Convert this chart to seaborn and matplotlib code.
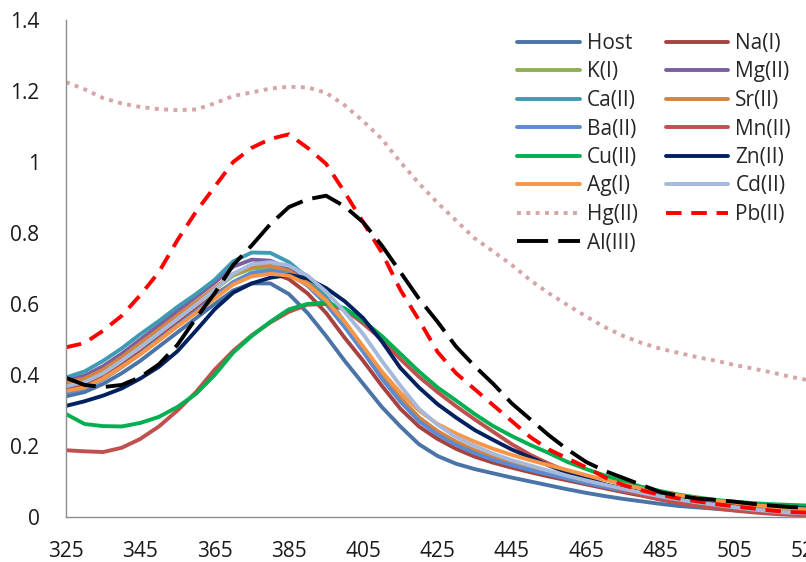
import numpy as np
import pandas as pd
import matplotlib
matplotlib.use("Agg")
import matplotlib.pyplot as plt
import seaborn as sns

wavelength = list(range(325, 530, 5))

series_names = ["Host", "Na(I)", "K(I)", "Mg(II)", "Ca(II)", "Sr(II)", "Ba(II)", "Mn(II)",
                "Cu(II)", "Zn(II)", "Ag(I)", "Cd(II)", "Hg(II)", "Pb(II)", "Al(III)"]

host = [0.340, 0.352, 0.375, 0.405, 0.440, 0.480, 0.520, 0.560, 0.600, 0.638, 0.658, 0.658, 0.628, 0.575,
        0.510, 0.440, 0.375, 0.310, 0.255, 0.205, 0.172, 0.150, 0.135, 0.123, 0.111, 0.100, 0.089, 0.078,
        0.068, 0.059, 0.051, 0.044, 0.037, 0.031, 0.027, 0.023, 0.019, 0.016, 0.013, 0.011, 0.009]
na = [0.360, 0.370, 0.395, 0.430, 0.465, 0.505, 0.545, 0.585, 0.625, 0.660, 0.685, 0.690, 0.670, 0.630,
      0.575, 0.505, 0.440, 0.370, 0.305, 0.255, 0.220, 0.192, 0.170, 0.153, 0.139, 0.126, 0.114, 0.103,
      0.092, 0.081, 0.070, 0.060, 0.050, 0.041, 0.034, 0.028, 0.022, 0.017, 0.013, 0.010, 0.008]
k = [0.372, 0.385, 0.410, 0.445, 0.482, 0.520, 0.560, 0.600, 0.640, 0.680, 0.700, 0.703, 0.690, 0.655,
     0.605, 0.540, 0.470, 0.395, 0.330, 0.275, 0.235, 0.205, 0.182, 0.163, 0.148, 0.135, 0.122, 0.110,
     0.098, 0.087, 0.076, 0.066, 0.056, 0.047, 0.039, 0.032, 0.026, 0.020, 0.016, 0.012, 0.010]
mg = [0.385, 0.398, 0.425, 0.460, 0.500, 0.540, 0.580, 0.620, 0.660, 0.705, 0.725, 0.722, 0.700, 0.660,
      0.610, 0.545, 0.475, 0.400, 0.335, 0.278, 0.238, 0.207, 0.183, 0.164, 0.148, 0.134, 0.121, 0.109,
      0.097, 0.086, 0.075, 0.065, 0.055, 0.046, 0.038, 0.031, 0.025, 0.019, 0.015, 0.011, 0.009]
ca = [0.393, 0.410, 0.440, 0.475, 0.515, 0.552, 0.592, 0.628, 0.668, 0.720, 0.745, 0.744, 0.718, 0.675,
      0.620, 0.550, 0.478, 0.400, 0.335, 0.280, 0.240, 0.210, 0.186, 0.167, 0.151, 0.137, 0.124, 0.111,
      0.099, 0.088, 0.077, 0.067, 0.057, 0.048, 0.040, 0.033, 0.027, 0.021, 0.016, 0.012, 0.010]
sr = [0.378, 0.390, 0.415, 0.450, 0.490, 0.528, 0.568, 0.606, 0.645, 0.685, 0.705, 0.708, 0.693, 0.660,
      0.610, 0.545, 0.475, 0.400, 0.335, 0.280, 0.242, 0.212, 0.188, 0.168, 0.152, 0.138, 0.125, 0.113,
      0.101, 0.090, 0.079, 0.069, 0.059, 0.050, 0.042, 0.035, 0.029, 0.023, 0.018, 0.014, 0.011]
ba = [0.350, 0.362, 0.388, 0.422, 0.460, 0.500, 0.540, 0.580, 0.620, 0.662, 0.688, 0.695, 0.685, 0.652,
      0.600, 0.535, 0.465, 0.390, 0.325, 0.270, 0.232, 0.203, 0.180, 0.161, 0.146, 0.132, 0.120, 0.108,
      0.096, 0.085, 0.074, 0.064, 0.054, 0.045, 0.037, 0.030, 0.024, 0.019, 0.014, 0.011, 0.009]
mn = [0.188, 0.185, 0.183, 0.195, 0.220, 0.255, 0.300, 0.352, 0.415, 0.468, 0.512, 0.548, 0.578, 0.598,
      0.600, 0.585, 0.545, 0.500, 0.445, 0.395, 0.352, 0.312, 0.275, 0.240, 0.205, 0.175, 0.150, 0.128,
      0.112, 0.092, 0.076, 0.061, 0.049, 0.039, 0.031, 0.024, 0.018, 0.013, 0.009, 0.006, 0.005]
cu = [0.290, 0.262, 0.256, 0.255, 0.265, 0.282, 0.310, 0.347, 0.400, 0.463, 0.510, 0.550, 0.585, 0.600,
      0.604, 0.588, 0.553, 0.510, 0.460, 0.410, 0.365, 0.328, 0.290, 0.256, 0.228, 0.203, 0.180, 0.155,
      0.135, 0.117, 0.100, 0.085, 0.073, 0.063, 0.055, 0.048, 0.043, 0.039, 0.036, 0.034, 0.032]
zn = [0.313, 0.326, 0.342, 0.362, 0.390, 0.423, 0.467, 0.525, 0.585, 0.632, 0.658, 0.674, 0.682, 0.672,
      0.645, 0.608, 0.560, 0.495, 0.420, 0.365, 0.318, 0.280, 0.245, 0.217, 0.190, 0.168, 0.145, 0.125,
      0.107, 0.092, 0.080, 0.070, 0.062, 0.055, 0.049, 0.044, 0.039, 0.034, 0.030, 0.026, 0.023]
ag = [0.355, 0.365, 0.390, 0.423, 0.458, 0.497, 0.537, 0.575, 0.615, 0.655, 0.678, 0.685, 0.680, 0.655,
      0.610, 0.550, 0.480, 0.410, 0.350, 0.300, 0.262, 0.235, 0.212, 0.192, 0.175, 0.160, 0.146, 0.132,
      0.118, 0.105, 0.092, 0.080, 0.070, 0.061, 0.053, 0.046, 0.040, 0.034, 0.029, 0.024, 0.021]
cd = [0.368, 0.380, 0.405, 0.440, 0.478, 0.518, 0.558, 0.598, 0.640, 0.685, 0.712, 0.718, 0.708, 0.680,
      0.635, 0.578, 0.515, 0.440, 0.370, 0.305, 0.260, 0.225, 0.200, 0.178, 0.160, 0.145, 0.130, 0.116,
      0.103, 0.091, 0.079, 0.068, 0.058, 0.049, 0.041, 0.034, 0.027, 0.021, 0.016, 0.012, 0.010]
hg = [1.225, 1.205, 1.180, 1.165, 1.155, 1.149, 1.146, 1.148, 1.165, 1.186, 1.196, 1.207, 1.212, 1.210,
      1.195, 1.160, 1.115, 1.065, 1.000, 0.940, 0.885, 0.835, 0.785, 0.748, 0.710, 0.667, 0.630, 0.597,
      0.565, 0.535, 0.510, 0.490, 0.474, 0.462, 0.450, 0.440, 0.428, 0.418, 0.407, 0.395, 0.385]
pb = [0.478, 0.490, 0.525, 0.567, 0.625, 0.690, 0.780, 0.860, 0.930, 1.000, 1.040, 1.065, 1.078, 1.040,
      0.995, 0.915, 0.830, 0.745, 0.640, 0.555, 0.465, 0.405, 0.360, 0.315, 0.270, 0.225, 0.190, 0.165,
      0.140, 0.112, 0.090, 0.075, 0.062, 0.052, 0.044, 0.036, 0.030, 0.024, 0.018, 0.014, 0.012]
al = [0.392, 0.372, 0.366, 0.372, 0.394, 0.430, 0.485, 0.560, 0.630, 0.710, 0.765, 0.825, 0.873, 0.895,
      0.905, 0.875, 0.830, 0.765, 0.690, 0.615, 0.550, 0.480, 0.425, 0.375, 0.320, 0.275, 0.230, 0.190,
      0.155, 0.130, 0.110, 0.090, 0.070, 0.060, 0.052, 0.048, 0.043, 0.037, 0.032, 0.028, 0.026]

values = [host, na, k, mg, ca, sr, ba, mn, cu, zn, ag, cd, hg, pb, al]

colors = ["#4A74A8", "#A8423F", "#8EB04E", "#7B5FA0", "#3E9BB3", "#D9823B", "#5B8BD0", "#C0504D",
          "#00B050", "#002060", "#F79646", "#A4B9DB", "#D6A5A5", "#FF0000", "#000000"]
dash_styles = [""] * 12 + [(1.0, 1.4), (4.0, 2.5), (8.0, 2.6)]

df = pd.concat([pd.DataFrame({"wavelength": wavelength, "value": v, "series": n})
                for n, v in zip(series_names, values)], ignore_index=True)

sns.set_style("white")
plt.rcParams["font.family"] = ["Open Sans", "DejaVu Sans"]

fig = plt.figure(figsize=(8.06, 5.62), dpi=100)
ax = fig.add_axes([66 / 806, 45 / 562, 743 / 806, 497 / 562])

sns.lineplot(data=df, x="wavelength", y="value", hue="series", style="series",
             hue_order=series_names, style_order=series_names,
             palette=dict(zip(series_names, colors)),
             dashes=dict(zip(series_names, dash_styles)),
             linewidth=2.8, legend=False, ax=ax, estimator=None)

ax.set_xlim(325, 525)
ax.set_ylim(0, 1.4)
ax.set_xticks(range(325, 526, 20))
ax.set_xticks(range(325, 526, 5), minor=True)
ax.set_yticks(np.arange(0, 1.41, 0.2))
ax.set_yticklabels(["0", "0.2", "0.4", "0.6", "0.8", "1", "1.2", "1.4"])
ax.set_xlabel("")
ax.set_ylabel("")

for side in ["top", "right"]:
    ax.spines[side].set_visible(False)
for side in ["left", "bottom"]:
    ax.spines[side].set_color("#8C8C8C")
    ax.spines[side].set_linewidth(1.0)

ax.tick_params(axis="both", which="both", direction="out", length=5, width=1,
               color="#8C8C8C", labelsize=15, labelcolor="#1A1A1A")
ax.tick_params(axis="x", which="major", pad=12)
ax.tick_params(axis="y", which="major", pad=14)

lines = ax.get_lines()[:len(series_names)]
order = list(range(0, 15, 2)) + list(range(1, 15, 2))
leg = ax.legend([lines[i] for i in order], [series_names[i] for i in order],
                ncol=2, loc="upper left", bbox_to_anchor=(517 / 806, 1 - 33 / 562),
                bbox_transform=fig.transFigure, frameon=False, fontsize=15,
                handlelength=3.0, handletextpad=0.35, columnspacing=1.33,
                labelspacing=0.36, borderpad=0, borderaxespad=0)

fig.savefig("out.png", dpi=100)
